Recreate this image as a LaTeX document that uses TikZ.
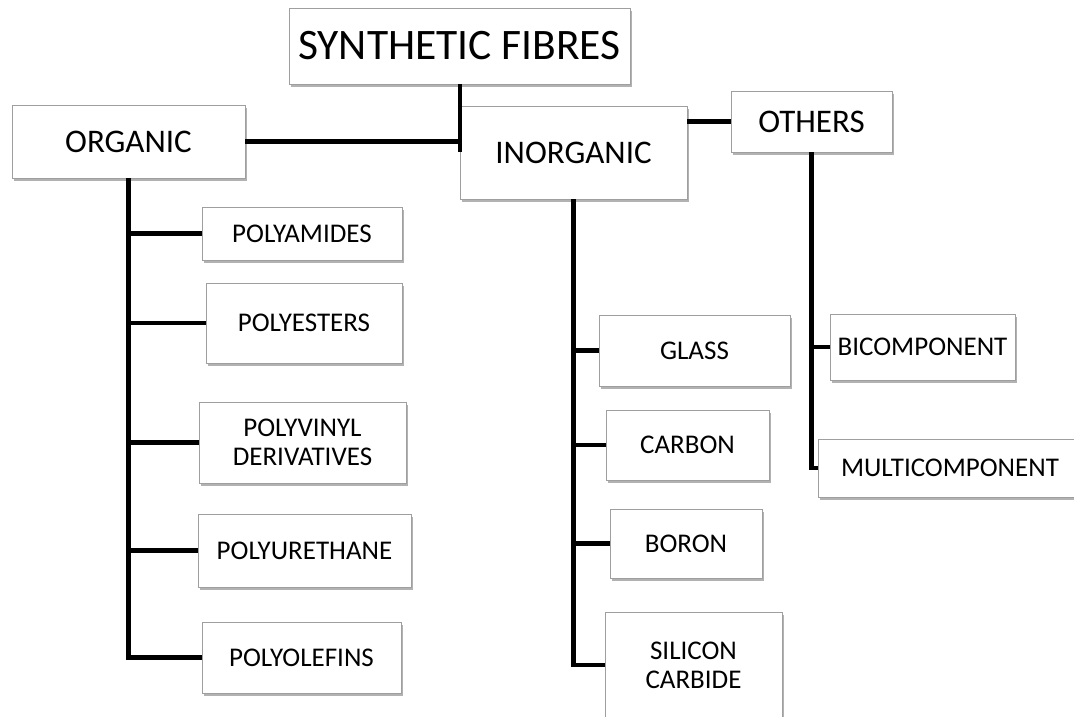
\documentclass[tikz,border=0pt]{standalone}
\usepackage{fontspec}
\setmainfont{Carlito}
\usetikzlibrary{positioning,shadows}

\begin{document}
\begin{tikzpicture}
    [ x = 1pt, y = -1pt
    , box/.style =
      { draw = gray!75, line width = .8pt, fill = white, inner sep = 0pt, align = center
      , drop shadow = {shadow xshift = 1.5pt, shadow yshift = -2.5pt, opacity = .3, fill = black}
      , font = \fontsize{27}{29}\selectfont }
    , midbox/.style =
      { box, font = \fontsize{33}{36}\selectfont }
    , topbox/.style =
      { box, font = \fontsize{43.5}{46}\selectfont }
    , edge/.style =
      { line width = 4.5pt, line join = miter }
    ]
    \useasboundingbox [fill = white] (0,0) rectangle (1074,716);

    % top levels
    \node [topbox, minimum width = 341pt, minimum height = 76pt] (syn) at (459.5,46) {SYNTHETIC FIBRES};
    \node [midbox, minimum width = 233pt, minimum height = 73pt] (org) at (128.5,141.5) {ORGANIC};
    \node [midbox, minimum width = 227pt, minimum height = 93pt] (inorg) at (573.5,152.5) {INORGANIC};
    \node [midbox, minimum width = 161pt, minimum height = 61pt] (oth) at (811.5,121.5) {OTHERS};

    % organic
    \node [box, minimum width = 200pt, minimum height = 53pt] (pam) at (302,233.5) {POLYAMIDES};
    \node [box, minimum width = 196pt, minimum height = 80pt] (pes) at (304,323) {POLYESTERS};
    \node [box, minimum width = 207pt, minimum height = 81pt] (pvd) at (302.5,442.5) {POLYVINYL\\DERIVATIVES};
    \node [box, minimum width = 213pt, minimum height = 73pt] (pur) at (304.5,550.5) {POLYURETHANE};
    \node [box, minimum width = 199pt, minimum height = 71pt] (pol) at (301.5,657.5) {POLYOLEFINS};

    % inorganic
    \node [box, minimum width = 191pt, minimum height = 71pt] (gla) at (694.5,350.5) {GLASS};
    \node [box, minimum width = 163pt, minimum height = 70pt] (car) at (687.5,445) {CARBON};
    \node [box, minimum width = 152pt, minimum height = 69pt] (bor) at (686,543.5) {BORON};
    \node [box, minimum width = 177pt, minimum height = 106pt] (sic) at (693.5,665) {SILICON\\CARBIDE};

    % others
    \node [box, minimum width = 185pt, minimum height = 66pt] (bic) at (922.5,347) {BICOMPONENT};
    \node [box, minimum width = 264pt, minimum height = 58pt] (mul) at (950,468) {MULTICOMPONENT};

    \coordinate (hub) at (460,152);
    \draw [edge] (syn.south -| hub) -- (hub);
    \draw [edge] (org.east) -- (org.east -| hub);
    \draw [edge] (inorg.east |- oth.west) -- (oth.west);

    \draw [edge] (org.south) -- (org.south |- pol.west) -- (pol.west);
    \foreach \n in {pam,pes,pvd,pur}
      \draw [edge] (org.south |- \n.west) -- (\n.west);

    \draw [edge] (inorg.south) -- (inorg.south |- sic.west) -- (sic.west);
    \foreach \n in {gla,car,bor}
      \draw [edge] (inorg.south |- \n.west) -- (\n.west);

    \draw [edge] (oth.south) -- (oth.south |- mul.west) -- (mul.west);
    \draw [edge] (oth.south |- bic.west) -- (bic.west);
\end{tikzpicture}
\end{document}
